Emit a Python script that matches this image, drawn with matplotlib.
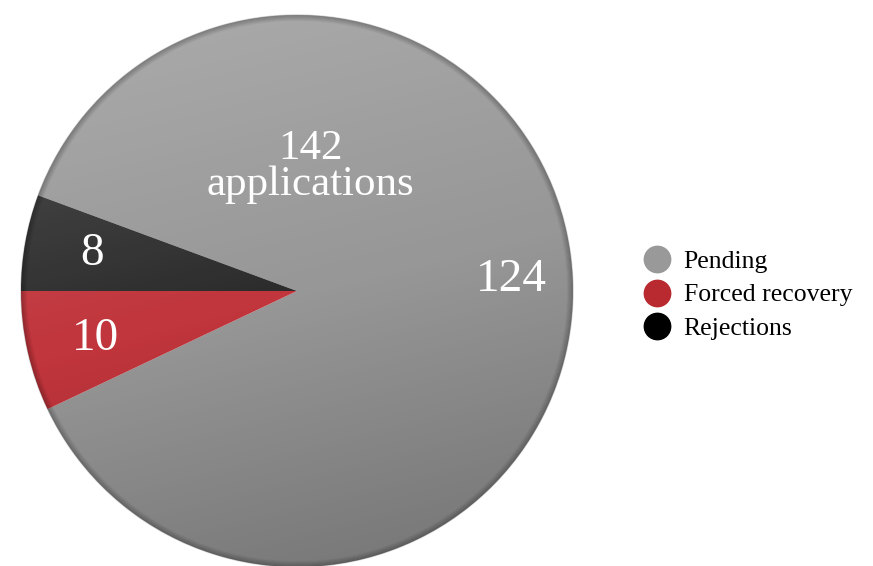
import numpy as np
import matplotlib
matplotlib.use("Agg")
import matplotlib.pyplot as plt
from matplotlib.patches import Circle
from matplotlib.lines import Line2D

categories = ["Pending", "Forced recovery", "Rejections"]
values = [124, 10, 8]
total_label = "142\napplications"
slice_colors = ["#979797", "#c1353c", "#2c2c2c"]
legend_colors = ["#999999", "#b82a30", "#000000"]

W, H = 873, 566
fig = plt.figure(figsize=(W / 100, H / 100), dpi=100)
ax = fig.add_axes([0, 0, 1, 1])

cx, cy, r = 297, H - 291, 276
start = 180 - 360 * values[2] / sum(values)
wedges, _ = ax.pie(values, colors=slice_colors, startangle=start, counterclock=False,
                   center=(cx, cy), radius=r, frame=True,
                   wedgeprops=dict(linewidth=0, antialiased=True))

# gradient shading overlay (light top-left, dark bottom-right)
yy, xx = np.mgrid[0:H, 0:W]
t = ((yy - (H - cy - r)) / (2 * r)) * 0.8 + ((xx - (cx - r)) / (2 * r)) * 0.2
t = np.clip(t, 0, 1)
img = np.zeros((H, W, 4))
light = np.clip(0.5 - t, 0, None) * 2
dark = np.clip(t - 0.5, 0, None) * 2
img[..., :3] = np.where((light > 0)[..., None], 1.0, 0.0)
img[..., 3] = light * 0.2 + dark * 0.24
im = ax.imshow(img, extent=(0, W, 0, H), origin="upper", zorder=3, interpolation="bilinear")
clip = Circle((cx, cy), r, transform=ax.transData)
im.set_clip_path(clip)
ax.set_xlim(0, W)
ax.set_ylim(0, H)
ax.set_aspect("equal")
ax.axis("off")

# rim shading
for i in range(7):
    ax.add_patch(Circle((cx, cy), r - i * 0.9, fill=False, edgecolor="black",
                        alpha=0.18 * (7 - i) / 7, linewidth=1.0, zorder=4))

serif = ["Liberation Serif", "DejaVu Serif"]
ax.text(310, H - 167, total_label, ha="center", va="center", color="white",
        fontsize=31, family=serif, linespacing=0.92, zorder=5)
ax.text(511, H - 280, str(values[0]), ha="center", va="center", color="white",
        fontsize=34, family=serif, zorder=5)
ax.text(95, H - 339, str(values[1]), ha="center", va="center", color="white",
        fontsize=34, family=serif, zorder=5)
ax.text(92, H - 254, str(values[2]), ha="center", va="center", color="white",
        fontsize=34, family=serif, zorder=5)

handles = [Line2D([0], [0], marker="o", linestyle="none", markersize=19,
                  markerfacecolor=c, markeredgecolor=c) for c in legend_colors]
leg = fig.legend(handles, categories, loc="center left",
                 bbox_to_anchor=(631 / W, 1 - 295 / H), frameon=False,
                 prop=dict(family=serif, size=18.5), handlelength=1.0,
                 handletextpad=0.55, labelspacing=0.42, borderpad=0)

fig.savefig("out.png", dpi=100)
